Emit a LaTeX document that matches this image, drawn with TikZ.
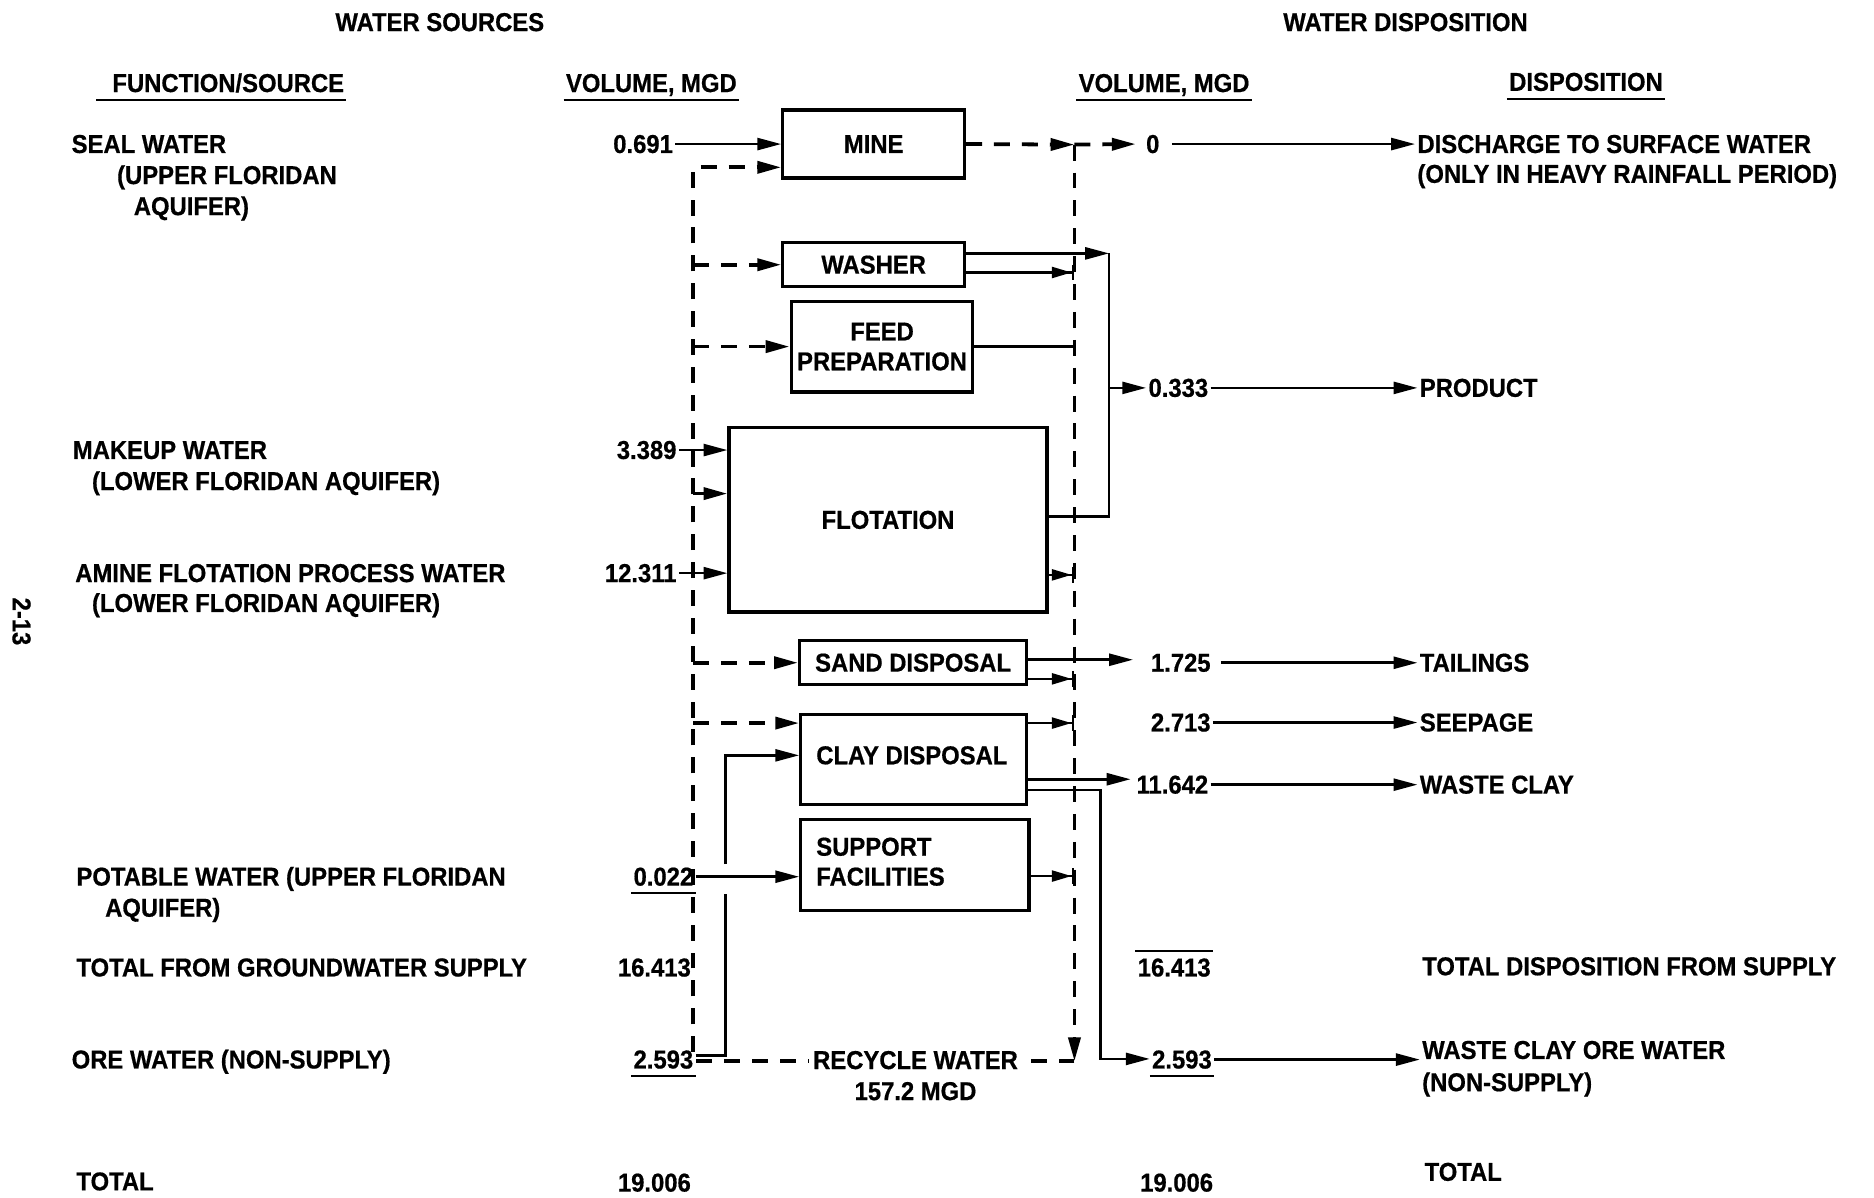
\documentclass[tikz,border=0pt]{standalone}
\usepackage{fontspec}
\setmainfont{Liberation Sans}[FakeStretch=0.92,FakeBold=0.6]
\usetikzlibrary{arrows.meta}
\begin{document}
\begin{tikzpicture}[x=0.6pt,y=-0.6pt,
  font=\fontsize{13}{15}\selectfont\bfseries,
  every node/.style={inner sep=1pt},
  txt/.style={anchor=base west},
  num/.style={anchor=base east},
  rnum/.style={anchor=base west},
  hdr/.style={anchor=base},
  box/.style={draw, line width=1.6pt, inner sep=2pt, align=center},
  ln/.style={line width=1.35pt},
  uln/.style={line width=1.1pt},
  arr/.style={ln, -{Triangle[length=12pt,width=6pt]}},
  barr/.style={ln, -{Triangle[length=10pt,width=5.5pt]Bar[width=8pt,line width=1.4pt]}},
  dl/.style={line width=1.9pt, dash pattern=on 8pt off 6pt},
  darr/.style={dl, -{Triangle[length=12pt,width=6pt]}},
]
\useasboundingbox (0,0) rectangle (1568,1002);

% headers
\node[hdr] (hws) at (368,26) {WATER SOURCES};
\node[hdr] (hwd) at (1176,26) {WATER DISPOSITION};
\node[hdr] (hfs) at (191,77) {FUNCTION/SOURCE};
\node[hdr] (hvl) at (545,77) {VOLUME, MGD};
\node[hdr] (hvr) at (974,77) {VOLUME, MGD};
\node[hdr] (hdp) at (1327,76) {DISPOSITION};
\draw[uln] ([xshift=-7pt,yshift=-4pt]hfs.base west) -- ([yshift=-4pt]hfs.base east);
\draw[uln] ([yshift=-4pt]hvl.base west) -- ([yshift=-4pt]hvl.base east);
\draw[uln] ([yshift=-4pt]hvr.base west) -- ([yshift=-4pt]hvr.base east);
\draw[uln] ([yshift=-4pt]hdp.base west) -- ([yshift=-4pt]hdp.base east);

% page number
\node[rotate=-90] (pg) at (18,520) {2-13};

% left labels
\node[txt] (l1a) at (58,128) {SEAL WATER};
\node[txt] (l1b) at (96,154) {(UPPER FLORIDAN};
\node[txt] (l1c) at (110,180) {AQUIFER)};
\node[txt] (l2a) at (59,384) {MAKEUP WATER};
\node[txt] (l2b) at (75,410) {(LOWER FLORIDAN AQUIFER)};
\node[txt] (l3a) at (61,487) {AMINE FLOTATION PROCESS WATER};
\node[txt] (l3b) at (75,512) {(LOWER FLORIDAN AQUIFER)};
\node[txt] (l4a) at (62,741) {POTABLE WATER (UPPER FLORIDAN};
\node[txt] (l4b) at (86,767) {AQUIFER)};
\node[txt] (l5) at (62,817) {TOTAL FROM GROUNDWATER SUPPLY};
\node[txt] (l6) at (58,894) {ORE WATER (NON-SUPPLY)};
\node[txt] (l7) at (62,996) {TOTAL};

% left numbers
\node[num] (v0691) at (565,128) {0.691};
\node[num] (v3389) at (568,384) {3.389};
\node[num] (v12311) at (568,487) {12.311};
\node[num] (v0022) at (582,741) {0.022};
\node[num] (v16413) at (580,817) {16.413};
\node[num] (v2593) at (582,894) {2.593};
\node[num] (v19006) at (580,997) {19.006};
\draw[uln] ([yshift=-3.6pt]v0022.base west) -- ([yshift=-3.6pt]v0022.base east);
\draw[uln] ([yshift=-3.6pt]v2593.base west) -- ([yshift=-3.6pt]v2593.base east);

% boxes
\node[box, minimum width=91.2pt, minimum height=34.2pt] (mine) at (731,120.5) {MINE};
\node[box, minimum width=91.2pt, minimum height=22.2pt] (washer) at (731,221.5) {WASHER};
\node[box, minimum width=91.2pt, minimum height=45.6pt] (feed) at (738,290) {FEED\\PREPARATION};
\node[box, minimum width=159.6pt, minimum height=92.4pt] (flot) at (743,435) {FLOTATION};
\node[box, minimum width=114pt, minimum height=22.2pt] (sand) at (764,554.5) {SAND DISPOSAL};
\node[box, minimum width=113.4pt, minimum height=45pt] (clay) at (764.5,635.5) {};
\node[anchor=west] (claytxt) at (681,632) {CLAY DISPOSAL};
\node[box, minimum width=114.6pt, minimum height=45.6pt] (sup) at (765.5,724) {};
\node[anchor=west, align=left] (suptxt) at (681,721) {SUPPORT\\FACILITIES};

% recycle loop
\coordinate (LT) at (580,140);
\coordinate (LB) at (580,888);
\coordinate (RT) at (899,121);
\coordinate (RB) at (899,888);
\draw[darr] (RT) -- (RB);
\draw[darr] (RB) -- (LB) -- (LT) -- (LT -| mine.west);
\node[fill=white, inner xsep=2pt] (rec) at (766,887) {RECYCLE WATER};
\node (rec2) at (766,913) {157.2 MGD};

% dashed branches from the left line
\draw[darr] (LT |- washer.west) -- (washer.west);
\draw[darr] (LT |- feed.west) -- (feed.west);
\coordinate (bF) at (580,413);
\draw[darr] (bF) -- (bF -| flot.west);
\draw[darr] (LT |- sand.west) -- (sand.west);
\coordinate (bC) at (580,605);
\draw[darr] (bC) -- (bC -| clay.west);

% supply inputs
\draw[arr] (v0691.east) -- (v0691.east -| mine.west);
\draw[arr] (v3389.east) -- (v3389.east -| flot.west);
\draw[arr] (v12311.east) -- (v12311.east -| flot.west);
\draw[arr] (v0022.east) -- (v0022.east -| sup.west);

% ore water
\coordinate (o1) at (607,883);
\coordinate (o2) at (607,748);
\coordinate (o3) at (607,723);
\coordinate (o4) at (607,632);
\draw[ln] (v2593.east |- o1) -- (o1) -- (o2);
\draw[arr] (o3) -- (o4) -- (o4 -| clay.west);

% right numbers
\node[rnum] (v0) at (957,128) {0};
\node[rnum] (v0333) at (959,332) {0.333};
\node[rnum] (v1725) at (961,562) {1.725};
\node[rnum] (v2713) at (961,612) {2.713};
\node[rnum] (v11642) at (949,664) {11.642};
\node[rnum] (v16413R) at (950,817) {16.413};
\node[rnum] (v2593R) at (962,894) {2.593};
\node[rnum] (v19006R) at (952,997) {19.006};
\draw[uln] ([yshift=2.5pt]v16413R.north west) -- ([yshift=2.5pt]v16413R.north east);
\draw[uln] ([yshift=-3.6pt]v2593R.base west) -- ([yshift=-3.6pt]v2593R.base east);

% process outputs
\draw[darr] (mine.east) -- (RT);
\draw[darr] (RT) -- ([xshift=-4pt]v0.west);
\coordinate (colT) at (928,212);
\coordinate (colB) at (928,432);
\draw[arr] (washer.east |- colT) -- (colT);
\coordinate (rW) at (899,228);
\draw[barr] (washer.east |- rW) -- (rW);
\coordinate (rFd) at (899,290);
\draw[ln] (feed.east |- rFd) -- (rFd);
\draw[ln] (flot.east |- colB) -- (colB) -- (colT);
\draw[arr] (colT |- v0333.west) -- (v0333.west);
\coordinate (rFl) at (899,481);
\draw[barr] (flot.east |- rFl) -- (rFl);
\coordinate (sU) at (948,552);
\draw[arr] (sand.east |- sU) -- (sU);
\coordinate (rS) at (899,568);
\draw[barr] (sand.east |- rS) -- (rS);
\coordinate (rC) at (899,605);
\draw[barr] (clay.east |- rC) -- (rC);
\coordinate (cM) at (946,652);
\draw[arr] (clay.east |- cM) -- (cM);
\coordinate (cL1) at (921,661);
\coordinate (cL2) at (921,886);
\draw[arr] (clay.east |- cL1) -- (cL1) -- (cL2) -- (cL2 -| v2593R.west);
\coordinate (rSp) at (899,733);
\draw[barr] (sup.east |- rSp) -- (rSp);

% disposition labels
\node[txt] (disch) at (1184,128) {DISCHARGE TO SURFACE WATER};
\node[txt] (disch2) at (1184,153) {(ONLY IN HEAVY RAINFALL PERIOD)};
\node[txt] (prod) at (1186,332) {PRODUCT};
\node[txt] (tail) at (1186,562) {TAILINGS};
\node[txt] (seep) at (1186,612) {SEEPAGE};
\node[txt] (wclay) at (1186,664) {WASTE CLAY};
\node[txt] (totd) at (1188,816) {TOTAL DISPOSITION FROM SUPPLY};
\node[txt] (wcow) at (1188,886) {WASTE CLAY ORE WATER};
\node[txt] (wcow2) at (1188,913) {(NON-SUPPLY)};
\node[txt] (totR) at (1190,988) {TOTAL};

\draw[arr] ([xshift=5pt]v0.east) -- (v0.east -| disch.west);
\draw[arr] (v0333.east) -- (v0333.east -| prod.west);
\draw[arr] ([xshift=4pt]v1725.east) -- (v1725.east -| tail.west);
\draw[arr] (v2713.east) -- (v2713.east -| seep.west);
\draw[arr] (v11642.east) -- (v11642.east -| wclay.west);
\draw[arr] (v2593R.east) -- (v2593R.east -| wcow.west);
\end{tikzpicture}
\end{document}
